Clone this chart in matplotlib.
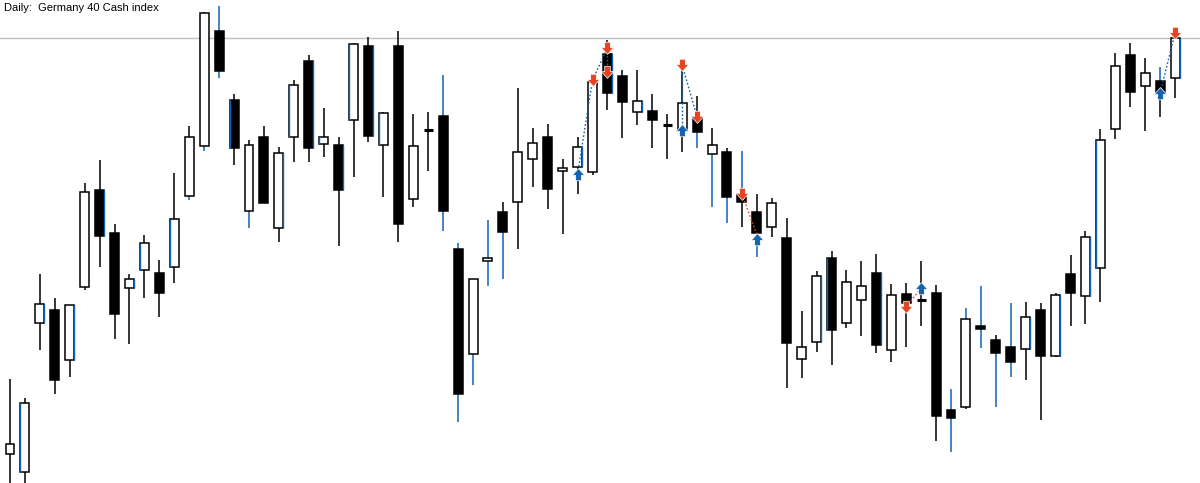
import numpy as np
import matplotlib
matplotlib.use("Agg")
import matplotlib.pyplot as plt
from matplotlib.path import Path

title = "Daily:  Germany 40 Cash index"

# daily OHLC
opens = [15092, 15056, 15354, 15380, 15280, 15426, 15620, 15534, 15424, 15460,
         15454, 15466, 15608, 15708, 15938, 15800, 15578, 15726, 15544, 15726,
         15878, 15712, 15710, 15760, 15908, 15710, 15908, 15602, 15740, 15768,
         15502, 15292, 15478, 15576, 15596, 15682, 15726, 15658, 15666, 15656,
         15892, 15848, 15776, 15778, 15750, 15740, 15766, 15692, 15696, 15612,
         15576, 15546, 15524, 15282, 15316, 15484, 15354, 15400, 15454, 15300,
         15412, 15400, 15414, 15180, 15186, 15348, 15320, 15306, 15302, 15380,
         15288, 15452, 15408, 15464, 15742, 15890, 15828, 15838, 15844]
highs = [15242, 15204, 15452, 15404, 15390, 15634, 15680, 15552, 15452, 15530,
         15480, 15654, 15748, 15976, 15988, 15812, 15720, 15748, 15706, 15840,
         15890, 15784, 15726, 15914, 15926, 15776, 15938, 15772, 15776, 15850,
         15514, 15442, 15560, 15596, 15824, 15744, 15752, 15682, 15726, 15850,
         15920, 15860, 15860, 15812, 15772, 15874, 15808, 15744, 15704, 15698,
         15612, 15604, 15564, 15378, 15458, 15498, 15460, 15478, 15492, 15432,
         15434, 15478, 15430, 15222, 15384, 15428, 15330, 15394, 15396, 15394,
         15414, 15490, 15538, 15742, 15894, 15914, 15884, 15866, 15942]
lows = [15020, 15020, 15300, 15212, 15246, 15420, 15466, 15322, 15312, 15404,
        15366, 15434, 15600, 15698, 15844, 15670, 15544, 15594, 15516, 15676,
        15676, 15686, 15508, 15646, 15716, 15606, 15516, 15586, 15658, 15538,
        15156, 15230, 15428, 15442, 15502, 15626, 15582, 15532, 15612, 15650,
        15780, 15724, 15750, 15704, 15682, 15696, 15704, 15586, 15554, 15546,
        15486, 15526, 15224, 15244, 15296, 15270, 15344, 15328, 15294, 15276,
        15306, 15348, 15118, 15096, 15182, 15304, 15186, 15246, 15240, 15160,
        15286, 15348, 15352, 15396, 15722, 15786, 15738, 15766, 15804]
closes = [15112, 15194, 15392, 15240, 15390, 15616, 15528, 15372, 15442, 15514,
          15414, 15562, 15726, 15974, 15858, 15704, 15710, 15594, 15694, 15830,
          15704, 15726, 15620, 15912, 15728, 15774, 15552, 15708, 15740, 15578,
          15212, 15442, 15484, 15536, 15696, 15714, 15622, 15664, 15706, 15836,
          15814, 15796, 15798, 15760, 15750, 15794, 15736, 15710, 15606, 15596,
          15534, 15594, 15314, 15306, 15448, 15340, 15436, 15428, 15310, 15410,
          15394, 15400, 15168, 15164, 15362, 15342, 15294, 15276, 15366, 15288,
          15410, 15414, 15526, 15720, 15868, 15816, 15854, 15816, 15924]

# candles with the blue overlay on body side / wicks
edge_blue = [1, 2, 4, 6, 8, 9, 11, 15, 18, 19, 20, 21, 22, 23, 24, 25, 38, 40,
             42, 54, 55, 58, 68, 70, 72, 73, 78]
upper_blue = [14, 29, 30, 32, 49, 63, 64, 65, 67, 77]
lower_blue = [12, 13, 14, 16, 29, 30, 31, 32, 33, 46, 47, 48, 50, 63, 65, 66, 67]

# trade arrows (bar index, price)
sell_idx = [39, 40, 40, 45, 46, 49, 60, 78]
sell_px = [15840, 15904, 15856, 15870, 15766, 15612, 15386, 15934]
buy_idx = [38, 45, 50, 61, 77]
buy_px = [15652, 15740, 15522, 15424, 15814]

# dotted trade links: (idx0, px0, idx1, px1, colour)
links = [(38, 15652, 39, 15840, "blue"), (39, 15840, 40, 15904, "blue"),
         (40, 15904, 40, 15856, "blue"), (45, 15870, 45, 15740, "blue"),
         (45, 15870, 46, 15766, "blue"), (49, 15612, 50, 15530, "red"),
         (60, 15386, 61, 15424, "red"), (77, 15814, 78, 15934, "blue")]

BLUE = "#1463b0"
RED = "#e2451f"
w = 0.6

fig = plt.figure(figsize=(12, 4.83), dpi=100)
ax = fig.add_axes([0, 0, 1, 1])
ax.set_xlim(-0.67, 79.67)
ax.set_ylim(15034, 16000)
ax.axis("off")

# current price line
ax.axhline(closes[-1], color="#c0c0c0", lw=1.0, zorder=1)

for i in range(len(opens)):
    o, h, l, c = opens[i], highs[i], lows[i], closes[i]
    top, bot = max(o, c), min(o, c)
    ax.vlines(i, top, h, color=BLUE if i in upper_blue else "black", lw=1.1, zorder=2)
    ax.vlines(i, l, bot, color=BLUE if i in lower_blue else "black", lw=1.1, zorder=2)
    if o == c:
        ax.hlines(o, i - w / 2, i + w / 2, color="black", lw=2.2, zorder=3)
        continue
    face = "white" if c > o else "black"
    ax.bar(i, top - bot, bottom=bot, width=w, color=face, edgecolor="black",
           lw=1.1, zorder=3)
    if i in edge_blue:
        side = i - w / 2 if i % 2 else i + w / 2
        ax.vlines(side, bot, top, color=BLUE, lw=1.0, zorder=4)

for x0, y0, x1, y1, col in links:
    ax.plot([x0, x1], [y0, y1], ls=(0, (1.2, 1.5)), lw=1.0,
            color=BLUE if col == "blue" else RED, zorder=5)

down = Path([(-0.45, 1), (0.45, 1), (0.45, 0.15), (1.0, 0.15), (0, -0.95),
             (-1.0, 0.15), (-0.45, 0.15), (-0.45, 1)], closed=True)
up = Path([(x, -y) for x, y in down.vertices], closed=True)

ax.plot(sell_idx, sell_px, ls="none", marker=down, ms=9, color=RED,
        mec="white", mew=0.5, zorder=6)
ax.plot(buy_idx, buy_px, ls="none", marker=up, ms=9, color=BLUE,
        mec="white", mew=0.5, zorder=6)

fig.text(4 / 1200, 1 - 3 / 483, title, ha="left", va="top", fontsize=8,
         family="Liberation Sans", color="black")

fig.savefig("out.png", dpi=100)
